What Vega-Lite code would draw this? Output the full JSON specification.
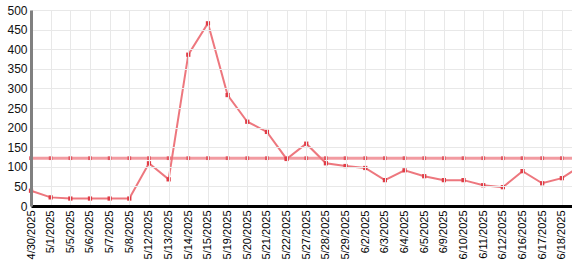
{
  "$schema": "https://vega.github.io/schema/vega-lite/v6.json",
  "autosize": {"type": "none"},
  "width": 541,
  "height": 196,
  "padding": {"left": 31, "top": 10, "right": 0, "bottom": 68},
  "background": "white",
  "config": {
    "view": {"stroke": null},
    "font": "Liberation Sans"
  },
  "data": {
    "values": [
      {"date": "4/30/2025", "value": 39, "target": 122},
      {"date": "5/1/2025", "value": 22, "target": 122},
      {"date": "5/5/2025", "value": 19, "target": 122},
      {"date": "5/6/2025", "value": 19, "target": 122},
      {"date": "5/7/2025", "value": 19, "target": 122},
      {"date": "5/8/2025", "value": 19, "target": 122},
      {"date": "5/12/2025", "value": 109, "target": 122},
      {"date": "5/13/2025", "value": 68, "target": 122},
      {"date": "5/14/2025", "value": 386, "target": 122},
      {"date": "5/15/2025", "value": 466, "target": 122},
      {"date": "5/19/2025", "value": 283, "target": 122},
      {"date": "5/20/2025", "value": 215, "target": 122},
      {"date": "5/21/2025", "value": 189, "target": 122},
      {"date": "5/22/2025", "value": 120, "target": 122},
      {"date": "5/27/2025", "value": 159, "target": 122},
      {"date": "5/28/2025", "value": 109, "target": 122},
      {"date": "5/29/2025", "value": 102, "target": 122},
      {"date": "6/2/2025", "value": 97, "target": 122},
      {"date": "6/3/2025", "value": 66, "target": 122},
      {"date": "6/4/2025", "value": 91, "target": 122},
      {"date": "6/5/2025", "value": 76, "target": 122},
      {"date": "6/9/2025", "value": 66, "target": 122},
      {"date": "6/10/2025", "value": 66, "target": 122},
      {"date": "6/11/2025", "value": 53, "target": 122},
      {"date": "6/12/2025", "value": 48, "target": 122},
      {"date": "6/16/2025", "value": 89, "target": 122},
      {"date": "6/17/2025", "value": 58, "target": 122},
      {"date": "6/18/2025", "value": 71, "target": 122},
      {"date": "6/19/2025", "value": 104, "target": 122}
    ]
  },
  "encoding": {
    "x": {
      "field": "date",
      "type": "ordinal",
      "sort": null,
      "scale": {"type": "point", "padding": 0, "range": [0, 550.5]},
      "axis": {
        "title": null,
        "labelAngle": -90,
        "labelFontSize": 11,
        "labelColor": "#000",
        "labelPadding": 4,
        "ticks": false,
        "domainColor": "#000",
        "domainWidth": 3,
        "grid": true,
        "gridColor": "#e8e8e8",
        "labelExpr": "datum.value == '6/19/2025' ? '' : datum.value",
        "zindex": 1
      }
    }
  },
  "layer": [
    {
      "mark": {"type": "line", "color": "#f08a90", "strokeWidth": 3, "opacity": 0.85,
               "point": {"shape": "square", "size": 14, "filled": true, "color": "#e0505a", "opacity": 0.9}},
      "encoding": {
        "y": {
          "field": "target",
          "type": "quantitative",
          "scale": {"domain": [0, 500], "nice": false},
          "axis": {
            "title": null,
            "values": [0, 50, 100, 150, 200, 250, 300, 350, 400, 450, 500],
            "labelOverlap": false,
            "labelFontSize": 12,
            "labelColor": "#111",
            "labelPadding": 4,
            "ticks": false,
            "domainColor": "#808080",
            "domainWidth": 3,
            "grid": true,
            "gridColor": "#e8e8e8",
            "zindex": 1
          }
        }
      }
    },
    {
      "mark": {"type": "line", "color": "#ec7077", "strokeWidth": 2, "opacity": 0.95,
               "point": {"shape": "square", "size": 18, "filled": true, "color": "#e03c46"}},
      "encoding": {
        "y": {
          "field": "value",
          "type": "quantitative",
          "scale": {"domain": [0, 500], "nice": false},
          "axis": {
            "title": null,
            "values": [0, 50, 100, 150, 200, 250, 300, 350, 400, 450, 500],
            "labelOverlap": false,
            "labelFontSize": 12,
            "labelColor": "#111",
            "labelPadding": 4,
            "ticks": false,
            "domainColor": "#808080",
            "domainWidth": 3,
            "grid": true,
            "gridColor": "#e8e8e8",
            "zindex": 1
          }
        }
      }
    }
  ]
}
